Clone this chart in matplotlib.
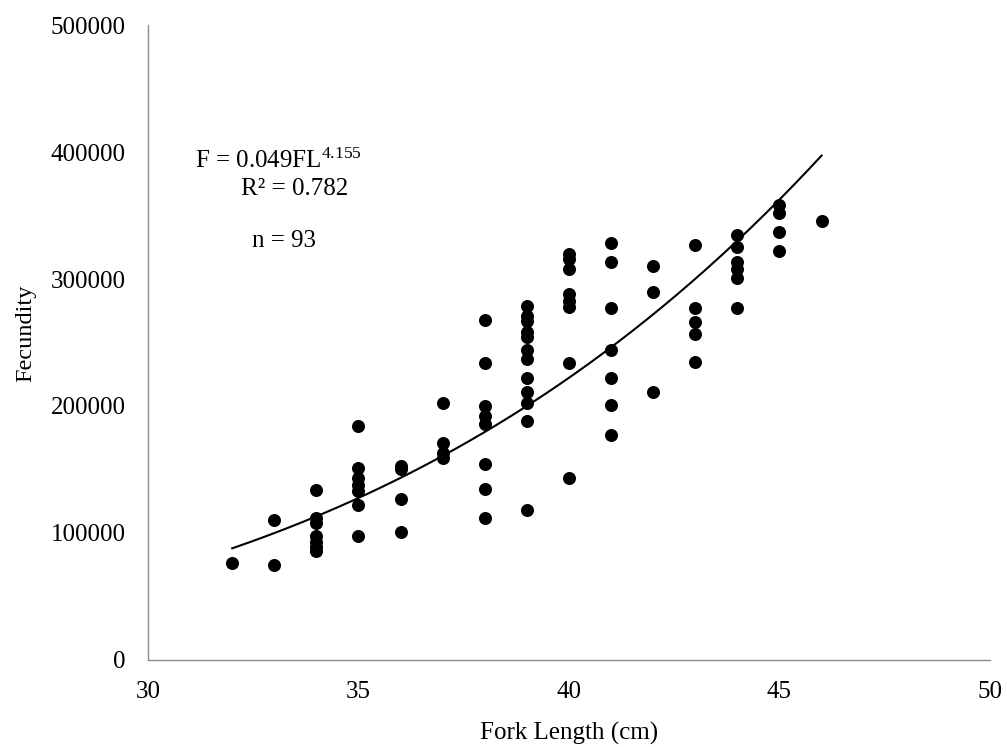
import numpy as np
import matplotlib
matplotlib.use("Agg")
import matplotlib.pyplot as plt

plt.rcParams['font.family'] = ['Liberation Serif', 'DejaVu Serif']
plt.rcParams['mathtext.fontset'] = 'custom'
plt.rcParams['mathtext.rm'] = 'Liberation Serif'
plt.rcParams['mathtext.it'] = 'Liberation Serif:italic'
plt.rcParams['mathtext.bf'] = 'Liberation Serif:bold'

fork_length = ([32] + [33]*2 + [34]*7 + [35]*7 + [36]*4 + [37]*4 + [38]*8 +
               [39]*12 + [40]*8 + [41]*7 + [42]*3 + [43]*5 + [44]*6 + [45]*4 + [46])
fecundity = [76000,
             110000, 75000,
             134000, 112000, 108000, 98000, 93000, 89000, 86000,
             184000, 151000, 143000, 138000, 133000, 122000, 98000,
             153000, 150000, 127000, 101000,
             202000, 171000, 163000, 159000,
             268000, 234000, 200000, 192000, 186000, 154000, 135000, 112000,
             279000, 271000, 267000, 258000, 254000, 244000, 237000, 222000, 211000, 202000, 188000, 118000,
             320000, 316000, 308000, 288000, 283000, 278000, 234000, 143000,
             328000, 313000, 277000, 244000, 222000, 201000, 177000,
             310000, 290000, 211000,
             327000, 277000, 266000, 257000, 235000,
             335000, 325000, 313000, 308000, 301000, 277000,
             358000, 352000, 337000, 322000,
             346000]

coef_a = 0.049
coef_b = 4.155
fit_range = [32, 46]

x_ticks = [30, 35, 40, 45, 50]
y_ticks = [0, 100000, 200000, 300000, 400000, 500000]

fig = plt.figure(figsize=(10.07, 7.47), dpi=100)
ax = fig.add_axes([0.147, 0.1165, 0.836, 0.85])

ax.scatter(fork_length, fecundity, s=88, color='black', zorder=3, linewidths=0)
xf = np.linspace(fit_range[0], fit_range[1], 200)
ax.plot(xf, coef_a * xf**coef_b, color='black', lw=1.5, zorder=2)

ax.set_xlim(30, 50)
ax.set_ylim(0, 500000)
ax.set_xticks(x_ticks)
ax.set_yticks(y_ticks)
ax.set_xticklabels([str(v) for v in x_ticks])
ax.set_yticklabels([str(v) for v in y_ticks])
ax.tick_params(length=0, labelsize=18)
ax.tick_params(axis='x', pad=15)
ax.tick_params(axis='y', pad=16)
for s in ['top', 'right']:
    ax.spines[s].set_visible(False)
for s in ['left', 'bottom']:
    ax.spines[s].set_color('#8c8c8c')
    ax.spines[s].set_linewidth(1.0)

ax.set_xlabel('Fork Length (cm)', fontsize=18)
ax.set_ylabel('Fecundity', fontsize=17.5)
ax.xaxis.set_label_coords(0.5, -0.0976)
ax.yaxis.set_label_coords(-0.133, 0.515)

ax.text(31.12, 387400, r'F = 0.049FL$^{4.155}$', fontsize=18, ha='left', va='baseline')
ax.text(32.22, 366100, 'R² = 0.782', fontsize=18, ha='left', va='baseline')
ax.text(32.47, 325200, 'n = 93', fontsize=18, ha='left', va='baseline')

fig.savefig('out.png', dpi=100)
